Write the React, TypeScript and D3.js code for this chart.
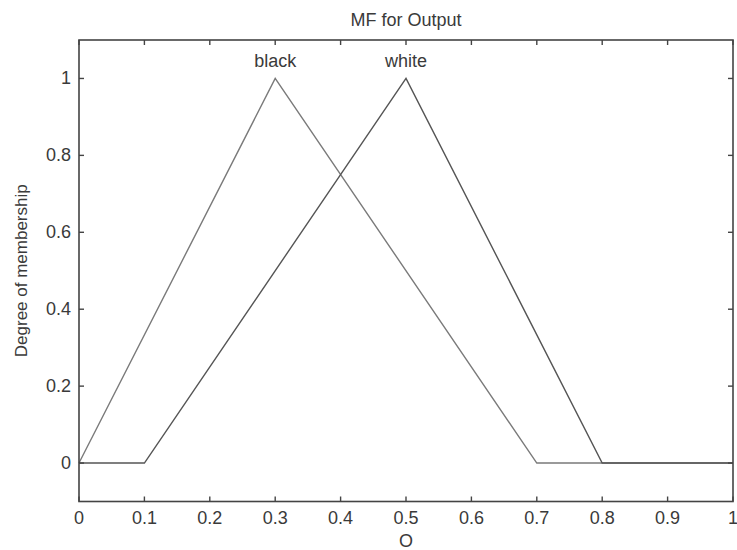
import React from 'react';
import * as d3 from 'd3';

// membership functions (x, degree)
const blackMF: [number, number][] = [[0, 0], [0.3, 1], [0.7, 0], [1, 0]];
const whiteMF: [number, number][] = [[0, 0], [0.1, 0], [0.5, 1], [0.8, 0], [1, 0]];
const mfNames = ['black', 'white'];
const mfPeaks = [0.3, 0.5];
const xTicks = [0, 0.1, 0.2, 0.3, 0.4, 0.5, 0.6, 0.7, 0.8, 0.9, 1];
const yTicks = [0, 0.2, 0.4, 0.6, 0.8, 1];

const W = 737;
const H = 550;
const margin = { top: 40, right: 3, bottom: 48.5, left: 79 };

export default function App() {
  const x = d3.scaleLinear().domain([0, 1]).range([margin.left, W - margin.right - 1]);
  const y = d3.scaleLinear().domain([-0.1, 1.1]).range([H - margin.bottom, margin.top]);
  const line = d3.line<[number, number]>().x(d => x(d[0])).y(d => y(d[1]));
  const font = 'Liberation Sans, Arial, sans-serif';
  const axisColor = '#444';
  const txt = '#3a3a3a';
  const fs = 18;
  const tk = 5;

  return (
    <svg width={W} height={H} style={{ position: 'absolute', left: 0, top: 0, background: '#fff' }}>
      <text x={(x(0) + x(1)) / 2} y={26} textAnchor="middle" fontFamily={font} fontSize={fs} fill={txt}>MF for Output</text>

      <path d={line(blackMF) ?? ''} fill="none" stroke="#7a7a7a" strokeWidth={1.4} />
      <path d={line(whiteMF) ?? ''} fill="none" stroke="#555" strokeWidth={1.4} />

      {mfNames.map((n, i) => (
        <text key={n} x={x(mfPeaks[i])} y={y(1) - 11} textAnchor="middle" fontFamily={font} fontSize={fs} fill={txt}>{n}</text>
      ))}

      <rect x={x(0)} y={y(1.1)} width={x(1) - x(0)} height={y(-0.1) - y(1.1)} fill="none" stroke={axisColor} strokeWidth={1.6} />

      {xTicks.map(t => (
        <g key={'x' + t}>
          <line x1={x(t)} x2={x(t)} y1={y(-0.1)} y2={y(-0.1) - tk} stroke={axisColor} strokeWidth={1.4} />
          <line x1={x(t)} x2={x(t)} y1={y(1.1)} y2={y(1.1) + tk} stroke={axisColor} strokeWidth={1.4} />
          <text x={x(t)} y={524} textAnchor="middle" fontFamily={font} fontSize={fs} fill={txt}>{String(t)}</text>
        </g>
      ))}
      {yTicks.map(t => (
        <g key={'y' + t}>
          <line x1={x(0)} x2={x(0) + tk} y1={y(t)} y2={y(t)} stroke={axisColor} strokeWidth={1.4} />
          <line x1={x(1)} x2={x(1) - tk} y1={y(t)} y2={y(t)} stroke={axisColor} strokeWidth={1.4} />
          <text x={x(0) - 8} y={y(t) + 6} textAnchor="end" fontFamily={font} fontSize={fs} fill={txt}>{String(t)}</text>
        </g>
      ))}

      <text x={(x(0) + x(1)) / 2} y={547} textAnchor="middle" fontFamily={font} fontSize={fs} fill={txt}>O</text>
      <text transform={`translate(27,${(y(-0.1) + y(1.1)) / 2}) rotate(-90)`} textAnchor="middle" fontFamily={font} fontSize={17} fill={txt}>Degree of membership</text>
    </svg>
  );
}
